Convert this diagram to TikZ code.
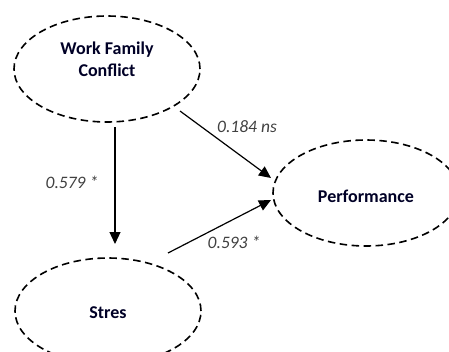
\documentclass[tikz,border=0pt]{standalone}
\usepackage{fontspec}
\setmainfont{Carlito}
\usetikzlibrary{shapes.geometric,arrows.meta,calc}
\begin{document}
\begin{tikzpicture}[x=1pt,y=-1pt,
  latent/.style={ellipse,draw,line width=1.6pt,dash pattern=on 7.5pt off 4.5pt,minimum width=186pt,minimum height=106pt,inner sep=0pt},
  txt/.style={align=center,font=\fontsize{18}{22}\selectfont\bfseries,text=black!85!blue},
  arr/.style={-{Triangle[length=12pt,width=11pt]},line width=1.2pt},
  lab/.style={font=\fontsize{17.5}{20}\selectfont\itshape,text=black!75}]
\useasboundingbox (0,0) rectangle (449,351);
\node[latent] (wfc) at (107,69) {};
\node[txt] (wfct) at (107,59) {Work Family\\Conflict};
\node[latent] (perf) at (366,193) {};
\node[txt] (perft) at (366,196) {Performance};
\node[latent] (stres) at (108,311) {};
\node[txt] (strest) at (108,313) {Stres};
\draw[arr] ($(wfc.center)+(8,58)$) -- ($(stres.center)+(7,-67)$);
\draw[arr] ($(wfc.center)+(73,42)$) -- ($(perf.center)+(-95,-15)$);
\draw[arr] ($(stres.center)+(60,-58)$) -- ($(perf.center)+(-95,7)$);
\node[lab] (l1) at (247,127) {0.184 ns};
\node[lab] (l2) at (72,182) {0.579 *};
\node[lab] (l3) at (234,242) {0.593 *};
\end{tikzpicture}
\end{document}
